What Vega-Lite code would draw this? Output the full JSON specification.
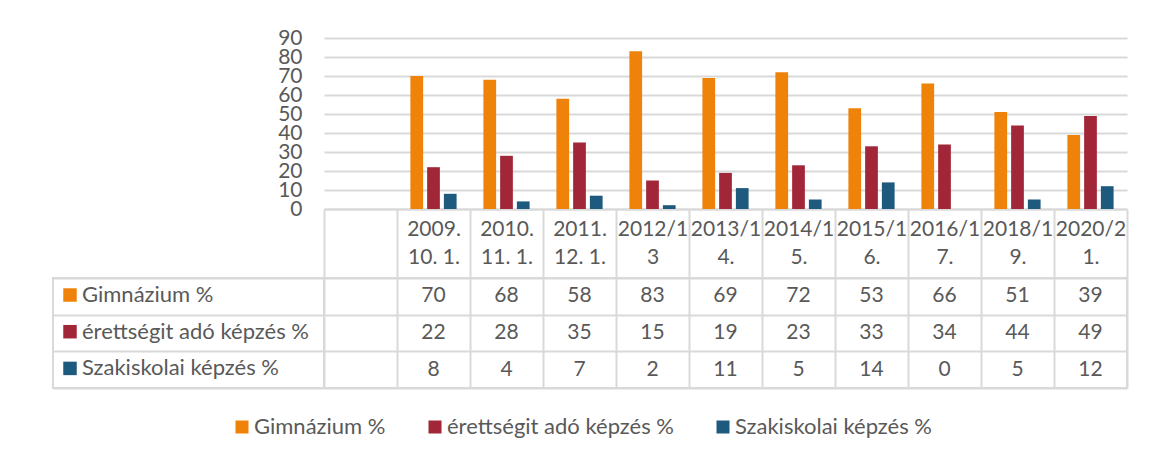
{
  "$schema": "https://vega.github.io/schema/vega-lite/v6.json",
  "padding": {"left": 52, "top": 27, "right": 10, "bottom": 10},
  "bounds": "flush",
  "columns": 2,
  "spacing": {"row": 69, "column": 0},
  "config": {
    "font": "Lato",
    "view": {"stroke": "#d9d9d9", "strokeWidth": 2},
    "axis": {"labelFont": "Lato", "labelColor": "#595959", "labelFontSize": 21},
    "legend": {"labelFont": "Lato", "labelColor": "#595959", "labelFontSize": 22, "padding": 0, "labelLimit": 0}
  },
  "datasets": {
    "table": [
      {"cat": "2009. 10. 1.", "series": "Gimnázium %", "value": 70},
      {"cat": "2010. 11. 1.", "series": "Gimnázium %", "value": 68},
      {"cat": "2011. 12. 1.", "series": "Gimnázium %", "value": 58},
      {"cat": "2012/13", "series": "Gimnázium %", "value": 83},
      {"cat": "2013/14.", "series": "Gimnázium %", "value": 69},
      {"cat": "2014/15.", "series": "Gimnázium %", "value": 72},
      {"cat": "2015/16.", "series": "Gimnázium %", "value": 53},
      {"cat": "2016/17.", "series": "Gimnázium %", "value": 66},
      {"cat": "2018/19.", "series": "Gimnázium %", "value": 51},
      {"cat": "2020/21.", "series": "Gimnázium %", "value": 39},
      {"cat": "2009. 10. 1.", "series": "\u00a0érettségit adó képzés %", "value": 22},
      {"cat": "2010. 11. 1.", "series": "\u00a0érettségit adó képzés %", "value": 28},
      {"cat": "2011. 12. 1.", "series": "\u00a0érettségit adó képzés %", "value": 35},
      {"cat": "2012/13", "series": "\u00a0érettségit adó képzés %", "value": 15},
      {"cat": "2013/14.", "series": "\u00a0érettségit adó képzés %", "value": 19},
      {"cat": "2014/15.", "series": "\u00a0érettségit adó képzés %", "value": 23},
      {"cat": "2015/16.", "series": "\u00a0érettségit adó képzés %", "value": 33},
      {"cat": "2016/17.", "series": "\u00a0érettségit adó képzés %", "value": 34},
      {"cat": "2018/19.", "series": "\u00a0érettségit adó képzés %", "value": 44},
      {"cat": "2020/21.", "series": "\u00a0érettségit adó képzés %", "value": 49},
      {"cat": "2009. 10. 1.", "series": "Szakiskolai képzés %", "value": 8},
      {"cat": "2010. 11. 1.", "series": "Szakiskolai képzés %", "value": 4},
      {"cat": "2011. 12. 1.", "series": "Szakiskolai képzés %", "value": 7},
      {"cat": "2012/13", "series": "Szakiskolai képzés %", "value": 2},
      {"cat": "2013/14.", "series": "Szakiskolai képzés %", "value": 11},
      {"cat": "2014/15.", "series": "Szakiskolai képzés %", "value": 5},
      {"cat": "2015/16.", "series": "Szakiskolai képzés %", "value": 14},
      {"cat": "2016/17.", "series": "Szakiskolai képzés %", "value": 0},
      {"cat": "2018/19.", "series": "Szakiskolai képzés %", "value": 5},
      {"cat": "2020/21.", "series": "Szakiskolai képzés %", "value": 12}
    ]
  },
  "concat": [
    {
      "width": 271,
      "height": 171,
      "view": {"stroke": null},
      "data": {"values": [{}]},
      "mark": {"type": "text"},
      "encoding": {"text": {"value": ""}}
    },
    {
      "width": 803,
      "height": 171,
      "view": {"stroke": null},
      "data": {"name": "table"},
      "mark": {"type": "bar"},
      "encoding": {
        "x": {
          "field": "cat",
          "type": "nominal",
          "scale": {
            "domain": ["", "2009. 10. 1.", "2010. 11. 1.", "2011. 12. 1.", "2012/13", "2013/14.", "2014/15.", "2015/16.", "2016/17.", "2018/19.", "2020/21."],
            "paddingInner": 0,
            "paddingOuter": 0
          },
          "axis": {
            "title": null,
            "tickBand": "extent",
            "tickSize": 69,
            "tickColor": "#d9d9d9",
            "tickWidth": 2,
            "domainColor": "#d9d9d9",
            "domainWidth": 2,
            "labelAngle": 0,
            "labelOverlap": false,
            "labelFlush": false,
            "labelBaseline": "middle",
            "labelLineHeight": 28.7,
            "labelPadding": -49,
            "labelExpr": "[trim(substring(datum.label, 0, 6)), substring(datum.label, 6)]",
            "encode": {"labels": {"update": {"lineHeight": {"value": 28.7}}}}
          }
        },
        "xOffset": {
          "field": "series",
          "type": "nominal",
          "sort": ["Gimnázium %", "\u00a0érettségit adó képzés %", "Szakiskolai képzés %"],
          "scale": {"paddingInner": 0.24, "paddingOuter": 0.8}
        },
        "y": {
          "field": "value",
          "type": "quantitative",
          "scale": {"domain": [0, 90]},
          "axis": {
            "title": null,
            "values": [0, 10, 20, 30, 40, 50, 60, 70, 80, 90],
            "grid": true,
            "gridColor": "#d9d9d9",
            "gridWidth": 2,
            "domain": false,
            "ticks": false,
            "labelOverlap": false,
            "labelPadding": 22
          }
        },
        "color": {
          "field": "series",
          "type": "nominal",
          "scale": {
            "domain": ["Gimnázium %", "\u00a0érettségit adó képzés %", "Szakiskolai képzés %"],
            "range": ["#EF830A", "#A12637", "#1E5A7E"]
          },
          "legend": {
            "orient": "none",
            "direction": "horizontal",
            "legendX": 178,
            "legendY": 378,
            "title": null,
            "symbolType": "square",
            "symbolSize": 169,
            "symbolStrokeWidth": 0,
            "columnPadding": 38,
            "labelOffset": 1
          }
        }
      }
    },
    {
      "width": 271,
      "height": 110,
      "data": {"name": "table"},
      "mark": {"type": "rect", "fillOpacity": 0},
      "encoding": {
        "y": {
          "field": "series",
          "type": "nominal",
          "sort": ["Gimnázium %", "\u00a0érettségit adó képzés %", "Szakiskolai képzés %"],
          "scale": {"paddingInner": 0, "paddingOuter": 0},
          "axis": {
            "title": null,
            "labels": false,
            "ticks": false,
            "domain": false,
            "grid": true,
            "tickBand": "extent",
            "gridColor": "#d9d9d9",
            "gridWidth": 2
          }
        },
        "fill": {
          "field": "series",
          "type": "nominal",
          "sort": ["Gimnázium %", "\u00a0érettségit adó képzés %", "Szakiskolai képzés %"],
          "scale": {"range": ["#EF830A", "#A12637", "#1E5A7E"]},
          "legend": {
            "orient": "none",
            "direction": "vertical",
            "legendX": 6,
            "legendY": 246,
            "title": null,
            "symbolType": "square",
            "symbolSize": 182,
            "symbolStrokeWidth": 0,
            "symbolOpacity": 1,
            "rowPadding": 14.7,
            "labelOffset": 1,
            "encode": {"symbols": {"update": {"fillOpacity": {"value": 1}}}}
          }
        }
      }
    },
    {
      "width": 803,
      "height": 110,
      "data": {"name": "table"},
      "mark": {"type": "text", "fontSize": 21, "color": "#595959", "font": "Lato"},
      "encoding": {
        "x": {
          "field": "cat",
          "type": "nominal",
          "scale": {
            "domain": ["", "2009. 10. 1.", "2010. 11. 1.", "2011. 12. 1.", "2012/13", "2013/14.", "2014/15.", "2015/16.", "2016/17.", "2018/19.", "2020/21."],
            "paddingInner": 0,
            "paddingOuter": 0
          },
          "axis": {
            "title": null,
            "labels": false,
            "ticks": false,
            "domain": false,
            "grid": true,
            "tickBand": "extent",
            "gridColor": "#d9d9d9",
            "gridWidth": 2
          }
        },
        "y": {
          "field": "series",
          "type": "nominal",
          "sort": ["Gimnázium %", "\u00a0érettségit adó képzés %", "Szakiskolai képzés %"],
          "scale": {"paddingInner": 0, "paddingOuter": 0},
          "axis": {
            "title": null,
            "labels": false,
            "ticks": false,
            "domain": false,
            "grid": true,
            "tickBand": "extent",
            "gridColor": "#d9d9d9",
            "gridWidth": 2
          }
        },
        "text": {"field": "value", "type": "quantitative"}
      }
    }
  ]
}
